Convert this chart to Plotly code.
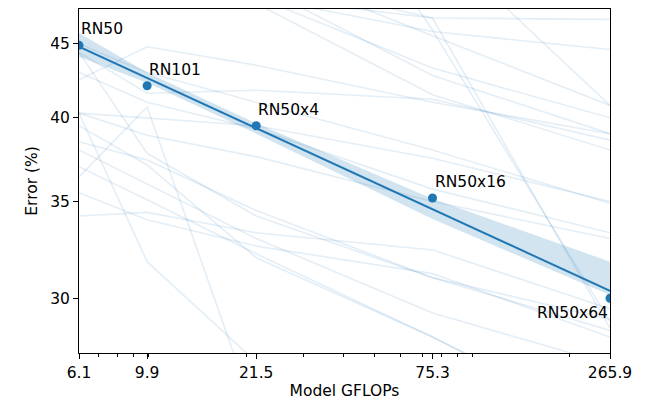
import numpy as np
import plotly.graph_objects as go

# CLIP ResNet models: compute vs. average error
models = ["RN50", "RN101", "RN50x4", "RN50x16", "RN50x64"]
gflops = [6.1, 9.9, 21.5, 75.3, 265.9]
gflops_labels = ["6.1", "9.9", "21.5", "75.3", "265.9"]
error = [44.9, 42.1, 39.5, 35.2, 30.0]

# confidence band of the fit at each model
ci_upper = [45.8, 43.0, 39.65, 35.15, 31.8]
ci_lower = [44.1, 42.3, 39.0, 34.04, 30.15]

# per-dataset error curves in the background (many run off the axes)
dataset_errors = [
    [42.5, 44.8, 43.5, 41.0, 39.0],
    [44.4, 41.6, 41.8, 41.2, 38.6],
    [40.3, 40.0, 39.5, 37.5, 35.0],
    [40.3, 38.9, 37.6, 35.0, 33.0],
    [36.4, 40.7, 24.8, 20.0, 18.0],
    [40.3, 31.8, 27.1, 24.0, 22.0],
    [34.2, 34.4, 33.3, 32.4, 29.5],
    [39.5, 37.1, 32.0, 28.2, 24.5],
    [38.5, 37.4, 34.5, 31.0, 28.5],
    [52.0, 50.0, 48.5, 43.3, 40.0],
    [51.0, 50.0, 48.5, 46.9, 46.8],
    [51.0, 50.0, 48.5, 45.9, 44.6],
    [56.0, 54.0, 51.0, 45.6, 40.8],
    [90.0, 80.0, 70.0, 46.0, 28.9],
    [60.0, 58.0, 56.0, 53.2, 40.8],
    [55.0, 52.0, 49.5, 42.8, 39.0],
    [53.0, 51.0, 48.0, 41.5, 38.0],
    [35.5, 34.0, 32.6, 31.2, 28.2],
    [37.0, 35.1, 32.2, 28.2, 24.4],
    [43.0, 41.0, 39.3, 35.7, 33.3],
    [45.0, 43.0, 41.0, 38.0, 34.9],
    [60.0, 55.0, 50.0, 46.9, 28.6],
    [44.4, 37.8, 34.2, 31.0, 29.0],
    [38.0, 36.0, 33.0, 29.3, 27.0],
]

blue = "#1f77b4"
font = dict(family="DejaVu Sans", size=15.5, color="black")

fig = go.Figure()

for ys in dataset_errors:
    fig.add_trace(go.Scatter(x=gflops, y=ys, mode="lines",
                             line=dict(color="rgba(31,119,180,0.12)", width=1.6),
                             hoverinfo="skip"))

# band
fig.add_trace(go.Scatter(x=gflops, y=ci_upper, mode="lines", line=dict(width=0)))
fig.add_trace(go.Scatter(x=gflops, y=ci_lower, mode="lines", line=dict(width=0),
                         fill="tonexty", fillcolor="rgba(31,119,180,0.2)"))

# log-log least squares fit
slope, intercept = np.polyfit(np.log(gflops), np.log(error), 1)
fit = np.exp(intercept + slope * np.log(gflops))
fig.add_trace(go.Scatter(x=gflops, y=fit, mode="lines", line=dict(color=blue, width=2)))

fig.add_trace(go.Scatter(x=gflops, y=error, mode="markers",
                         marker=dict(color=blue, size=9)))

for i, name in enumerate(models):
    last = i == len(models) - 1
    fig.add_annotation(x=np.log10(gflops[i]), y=np.log10(error[i]), text=name,
                       showarrow=False, font=font,
                       xanchor="right" if last else "left",
                       yshift=-15 if last else 16)

# page body has an 8px margin, so the figure is a bit smaller than the window
fig.update_layout(
    width=650, height=394,
    margin=dict(l=71, r=48, t=1, b=49),
    plot_bgcolor="white", paper_bgcolor="white",
    showlegend=False, font=font,
)
fig.update_xaxes(
    type="log", range=[np.log10(6.1), np.log10(265.9)],
    tickvals=gflops, ticktext=gflops_labels,
    ticks="outside", ticklen=5, tickcolor="black",
    showgrid=False, zeroline=False,
    showline=True, mirror=True, linecolor="black", linewidth=1,
    minor=dict(tickvals=[7, 8, 9, 10, 20, 30, 40, 50, 60, 70, 80, 90, 100, 200],
               ticks="outside", ticklen=3, tickcolor="black", showgrid=False),
    title=dict(text="Model GFLOPs", font=font, standoff=4),
)
fig.update_yaxes(
    type="log", range=[np.log10(27.49), np.log10(47.58)],
    tickvals=[30, 35, 40, 45], ticktext=["30", "35", "40", "45"],
    ticks="outside", ticklen=5, tickcolor="black",
    showgrid=False, zeroline=False,
    showline=True, mirror=True, linecolor="black", linewidth=1,
    title=dict(text="Error (%)", font=font, standoff=8),
)

fig.write_html("out.html")
